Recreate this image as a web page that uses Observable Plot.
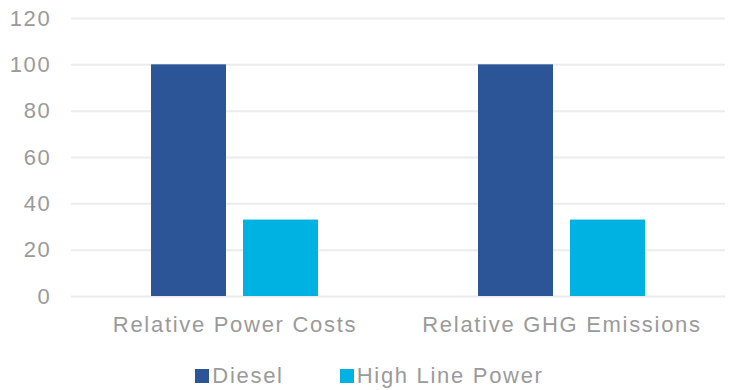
<!DOCTYPE html>
<html><head><meta charset="utf-8">
<script src="https://cdn.jsdelivr.net/npm/d3@7"></script>
<script src="https://cdn.jsdelivr.net/npm/@observablehq/plot@0.6"></script>
<style>
body{margin:0;background:#fff;font-family:"Liberation Sans",Arial,sans-serif;width:731px;height:390px;overflow:hidden;}
#chart svg text{letter-spacing:1.7px;}
#legend{display:flex;justify-content:center;align-items:center;height:30px;margin-top:11px;padding-left:8px;font-size:22px;letter-spacing:1.7px;color:#9a9a9a;}
#legend .item{display:flex;align-items:center;margin:0 28px;}
#legend .sw{width:14px;height:14px;margin-right:3px;}
</style></head><body><div id="chart"></div><div id="legend"></div>
<script>
const categories = ["Relative Power Costs", "Relative GHG Emissions"];
const series = ["Diesel", "High Line Power"];
const dieselValues = [100, 100];
const highLineValues = [33, 33];
const colors = ["#2B5597", "#00B2E2"];
const yTicks = [0, 20, 40, 60, 80, 100, 120];

const data = categories.flatMap((c, i) => [
  {category: c, series: series[0], value: dieselValues[i]},
  {category: c, series: series[1], value: highLineValues[i]}
]);

const chart = Plot.plot({
  width: 731, height: 350,
  marginTop: 18, marginBottom: 54, marginLeft: 70, marginRight: 6,
  style: {fontFamily: '"Liberation Sans", Arial, sans-serif', fontSize: "22px", color: "#9a9a9a", background: "white", overflow: "visible"},
  fx: {domain: categories, padding: 0, label: null, axis: "bottom", tickSize: 0, tickPadding: 20},
  x: {domain: series, paddingInner: 0.18, paddingOuter: 0.85, axis: null},
  y: {domain: [0, 120], ticks: yTicks, label: null, tickSize: 0, tickPadding: 20},
  color: {domain: series, range: colors},
  marks: [
    Plot.gridY(yTicks, {stroke: "#ececec", strokeWidth: 2, strokeOpacity: 1}),
    Plot.barY(data, {fx: "category", x: "series", y: "value", fill: "series"})
  ]
});
document.getElementById("chart").append(chart);

const legend = document.getElementById("legend");
series.forEach((s, i) => {
  const item = document.createElement("div");
  item.className = "item";
  const sw = document.createElement("div");
  sw.className = "sw";
  sw.style.background = colors[i];
  const t = document.createElement("span");
  t.textContent = s;
  item.append(sw, t);
  legend.append(item);
});
</script></body></html>
